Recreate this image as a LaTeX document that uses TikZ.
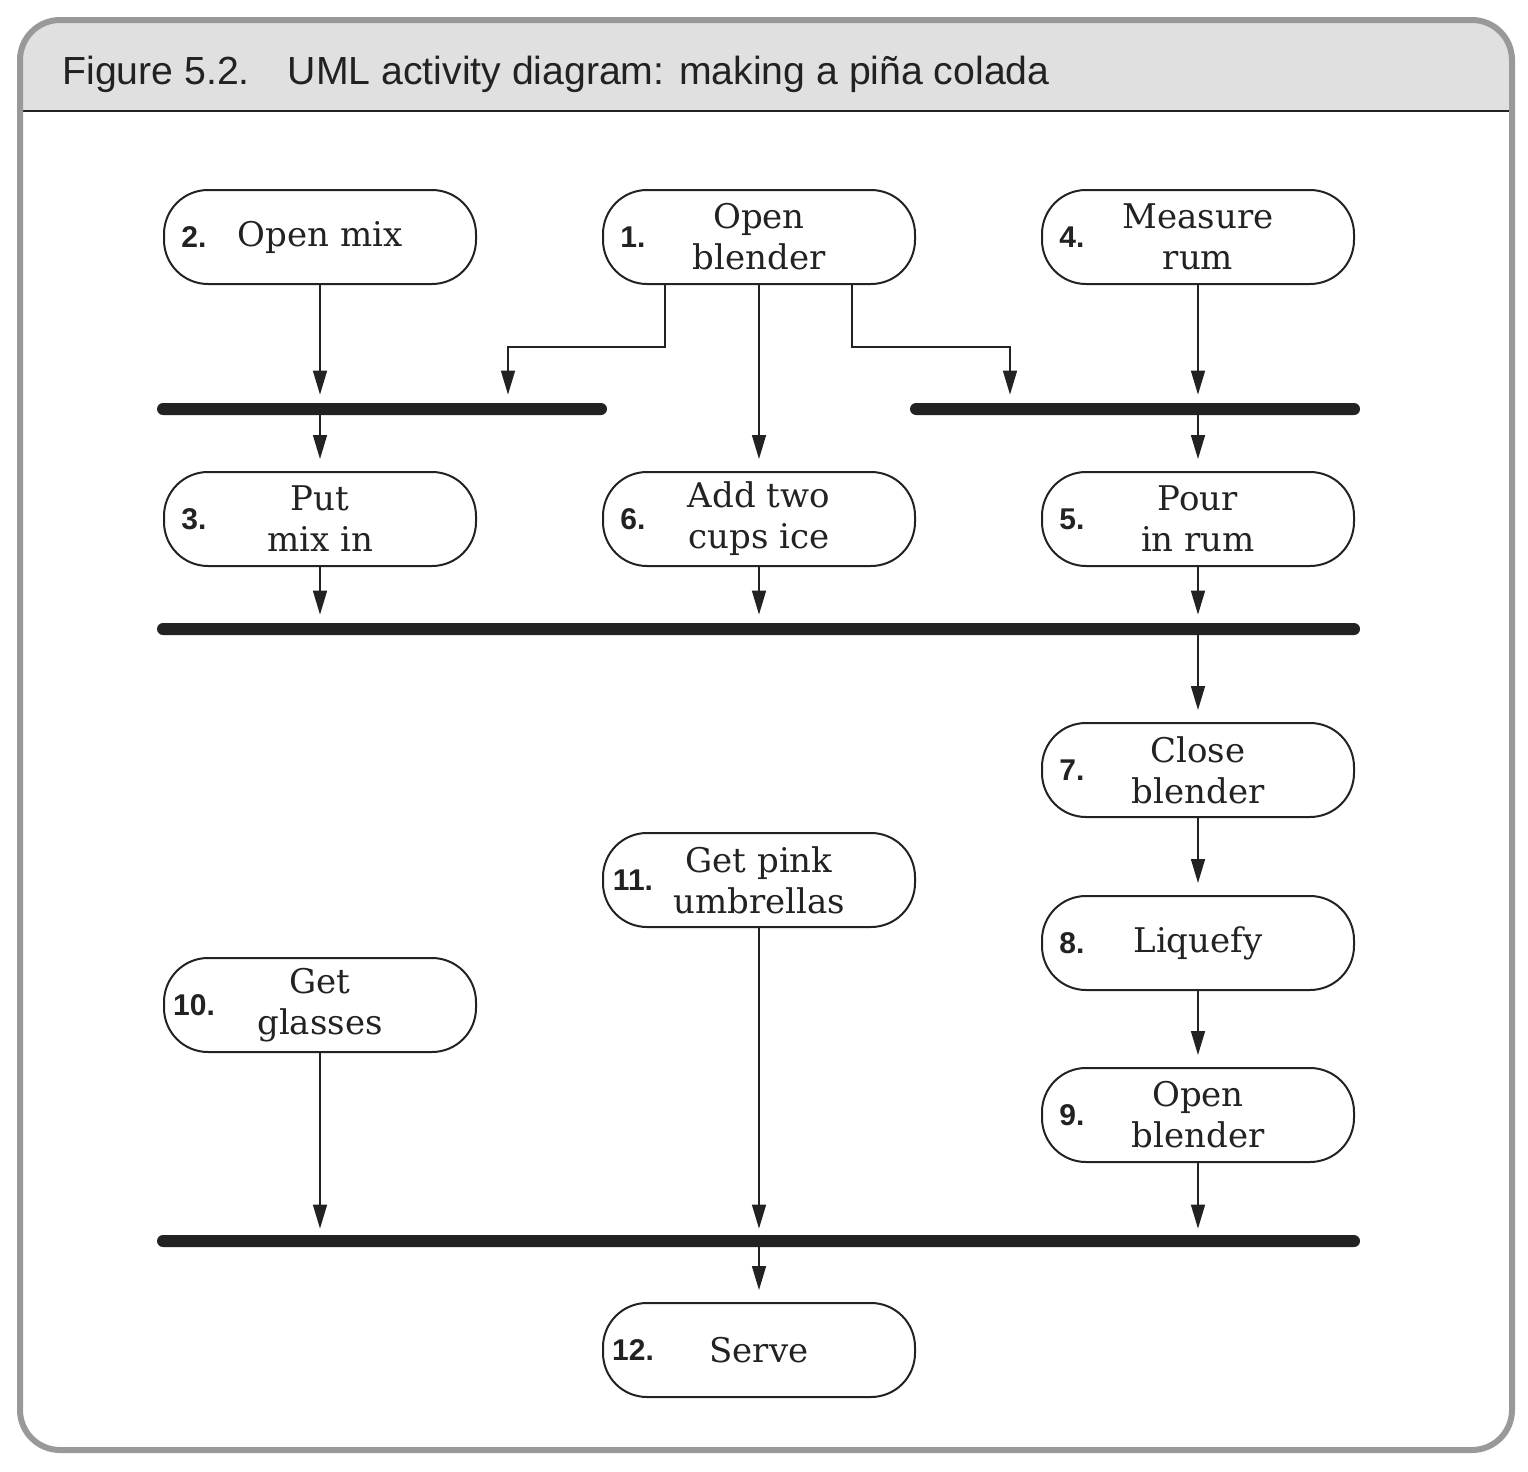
\documentclass[tikz,border=0pt]{standalone}
\usepackage{fontspec}
\setmainfont{DejaVu Serif}
\newfontfamily\numfont{Liberation Sans}
\usetikzlibrary{arrows.meta}
\definecolor{ink}{HTML}{222222}
\definecolor{headfill}{HTML}{E0E0E0}
\definecolor{framegray}{HTML}{999999}
\tikzset{
  act/.style={draw=ink, line width=1pt, rounded corners=22pt, minimum width=156pt,
    minimum height=47pt, inner sep=0pt, align=center, font=\fontsize{17}{20.5}\selectfont, text=ink},
  num/.style={font=\numfont\bfseries\fontsize{15}{17}\selectfont, text=ink, inner sep=0pt, anchor=center},
  syncbar/.style={fill=ink, rounded corners=3pt, minimum height=6pt, inner sep=0pt},
  arr/.style={draw=ink, line width=0.8pt, -{Triangle[length=12pt,width=7pt]}},
}
\begin{document}
\begin{tikzpicture}[x=0.5pt,y=-0.5pt]
\useasboundingbox (0,0) rectangle (1528,1472);
% frame
\begin{scope}
\clip[rounded corners=20pt] (20,20) rectangle (1512,1450);
\fill[headfill] (20,20) rectangle (1512,111);
\end{scope}
\draw[ink, line width=1.2pt] (20,111) -- (1512,111);
\draw[framegray, line width=3pt, rounded corners=20pt] (20,20) rectangle (1512,1450);
\node[anchor=base west, font=\numfont\fontsize{19.6}{23}\selectfont, text=ink, inner sep=0pt] (title) at (62,84)
  {Figure 5.2.\hspace{19pt}UML activity diagram: making a piña colada};

% activities
\node[act] (b2) at (320,237) {Open mix};
\node[act] (b1) at (759,237) {Open\\blender};
\node[act] (b4) at (1198,237) {Measure\\rum};
\node[act] (b3) at (320,519) {Put\\mix in};
\node[act] (b6) at (759,519) {Add two\\cups ice};
\node[act] (b5) at (1198,519) {Pour\\in rum};
\node[act] (b7) at (1198,770) {Close\\blender};
\node[act] (b11) at (759,880) {Get pink\\umbrellas};
\node[act] (b8) at (1198,943) {Liquefy};
\node[act] (b10) at (320,1005) {Get\\glasses};
\node[act] (b9) at (1198,1115) {Open\\blender};
\node[act] (b12) at (759,1350) {Serve};

% numbers
\foreach \b/\t in {b2/2.,b1/1.,b4/4.,b3/3.,b6/6.,b5/5.,b7/7.,b11/11.,b8/8.,b10/10.,b9/9.,b12/12.}
  \node[num] (n\b) at ([xshift=15.5pt]\b.west) {\t};

% sync bars
\node[syncbar, minimum width=225pt] (barA) at (382,409) {};
\node[syncbar, minimum width=225pt] (barB) at (1135,409) {};
\node[syncbar, minimum width=601.5pt] (barC) at (758.5,629) {};
\node[syncbar, minimum width=601.5pt] (barD) at (758.5,1241) {};

\coordinate (j1) at (508,347);
\coordinate (j2) at (1010,347);

% connectors
\draw[arr, shorten >=4pt] (b2.south) -- (b2.south |- barA.north);
\draw[arr, shorten >=4pt] ([xshift=-47pt]b1.south) |- (j1) -- (j1 |- barA.north);
\draw[arr, shorten >=6pt] (b1.south) -- (b6.north);
\draw[arr, shorten >=4pt] ([xshift=46.5pt]b1.south) |- (j2) -- (j2 |- barB.north);
\draw[arr, shorten >=4pt] (b4.south) -- (b4.south |- barB.north);
\draw[arr, shorten >=6pt] (b3.north |- barA.south) -- (b3.north);
\draw[arr, shorten >=6pt] (b5.north |- barB.south) -- (b5.north);
\draw[arr, shorten >=4pt] (b3.south) -- (b3.south |- barC.north);
\draw[arr, shorten >=4pt] (b6.south) -- (b6.south |- barC.north);
\draw[arr, shorten >=4pt] (b5.south) -- (b5.south |- barC.north);
\draw[arr, shorten >=6pt] (b7.north |- barC.south) -- (b7.north);
\draw[arr, shorten >=6pt] (b7.south) -- (b8.north);
\draw[arr, shorten >=6pt] (b8.south) -- (b9.north);
\draw[arr, shorten >=3pt] (b9.south) -- (b9.south |- barD.north);
\draw[arr, shorten >=3pt] (b10.south) -- (b10.south |- barD.north);
\draw[arr, shorten >=3pt] (b11.south) -- (b11.south |- barD.north);
\draw[arr, shorten >=6pt] (b12.north |- barD.south) -- (b12.north);
\end{tikzpicture}
\end{document}
